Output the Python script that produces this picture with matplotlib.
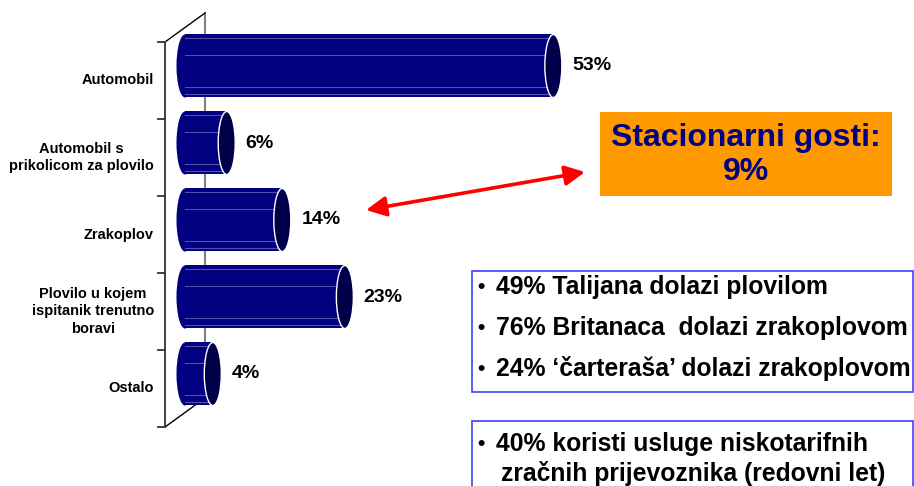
import matplotlib
matplotlib.use('Agg')
import matplotlib.pyplot as plt
from matplotlib.patches import Ellipse, Rectangle, FancyArrowPatch, ArrowStyle
from matplotlib.transforms import IdentityTransform

plt.rcParams['font.family'] = ['Liberation Sans', 'DejaVu Sans']

categories = ['Automobil', 'Automobil s\nprikolicom za plovilo', 'Zrakoplov',
              'Plovilo u kojem\nispitanik trenutno\nboravi', 'Ostalo']
values = [53, 6, 14, 23, 4]

highlight = 'Stacionarni gosti:\n9%'
notes_1 = ['49% Talijana dolazi plovilom',
           '76% Britanaca  dolazi zrakoplovom',
           '24% \u2018čarteraša\u2019 dolazi zrakoplovom']
notes_2 = ['40% koristi usluge niskotarifnih', 'zračnih prijevoznika (redovni let)']

W, H = 914, 486
fig = plt.figure(figsize=(W / 100, H / 100), dpi=100)
fig.patch.set_facecolor('white')


def fx(x):
    return x / W


def fy(y):
    return 1 - y / H


# chart axes (bars sit at mid depth of the 3D box)
ax = fig.add_axes([fx(165), fy(430), (700 - 165) / W, (430 - 12) / H])
ax.set_xlim(-20 / 6.95, 515 / 6.95)
ax.set_ylim((430 - 66) / 77, (12 - 66) / 77)
ax.axis('off')

body = '#000080'
cap = '#00004a'
bh = 63 / 77
ew = 17 / 6.95
depth_x, depth_y = 20, 14.5   # px, half depth of the box

fig.canvas.draw()


def disp(x, y, ox, oy):
    px, py = ax.transData.transform((x, y))
    return px + ox, py + oy


def seg(p1, p2, **kw):
    ln = plt.Line2D([p1[0], p2[0]], [p1[1], p2[1]], transform=IdentityTransform(), **kw)
    fig.add_artist(ln)


n = len(categories)
top, bot = -0.5, n - 0.5

# back wall line
seg(disp(0, top, depth_x, depth_y), disp(0, bot, depth_x, depth_y), color='#808080', lw=1.5, zorder=0)
# floor / top diagonals
seg(disp(0, top, -depth_x, -depth_y), disp(0, top, depth_x, depth_y), color='black', lw=1, zorder=0)
seg(disp(0, bot, -depth_x, -depth_y), disp(0, bot, depth_x, depth_y), color='black', lw=1, zorder=0)
# front axis + ticks
seg(disp(0, top, -depth_x, -depth_y), disp(0, bot, -depth_x, -depth_y), color='#333333', lw=1.3, zorder=5)
for k in range(n + 1):
    b = top + k
    seg(disp(0, b, -depth_x - 7, -depth_y), disp(0, b, -depth_x, -depth_y), color='#333333', lw=1.3, zorder=5)

stripes = [0.06, 0.32, 0.83, 0.94]
for i, v in enumerate(values):
    ax.add_patch(Ellipse((0, i), ew, bh, facecolor=body, edgecolor='none', zorder=2))
    ax.add_patch(Rectangle((0, i - bh / 2), v, bh, facecolor=body, edgecolor='none', zorder=2))
    for s in stripes:
        ax.plot([0, v], [i - bh / 2 + s * bh] * 2, color='#5252ac', lw=0.8, zorder=3)
    ax.add_patch(Ellipse((v, i), ew, bh, facecolor=cap, edgecolor='white', lw=1, zorder=4))
    ax.annotate(f'{v}%', (v, i), xytext=(19 * 0.72, 0), textcoords='offset points',
                ha='left', va='center', fontsize=14, fontweight='bold', color='black')
    ax.annotate(categories[i], (0, i), xytext=(-31 * 0.72, -depth_y * 0.72), textcoords='offset points',
                ha='right', va='center', multialignment='center', fontsize=10.5,
                fontweight='bold', linespacing=1.3, color='black')

# orange call-out
fig.add_artist(Rectangle((fx(600), fy(196)), 292 / W, 84 / H, transform=fig.transFigure,
                         facecolor='#ff9900', edgecolor='none'))
fig.text(fx(746), fy(155), highlight, ha='center', va='center', color='#000080',
         fontsize=23, fontweight='bold', linespacing=1.2)

# red double arrow
arrow = FancyArrowPatch((366, H - 210), (585, H - 172), transform=IdentityTransform(),
                        arrowstyle=ArrowStyle('<|-|>', head_length=1.2, head_width=0.6),
                        mutation_scale=10, color='#ff0000', lw=2.6, shrinkA=0, shrinkB=0)
fig.add_artist(arrow)

# note boxes
fig.add_artist(Rectangle((fx(472), fy(392)), (913 - 472) / W, (392 - 271) / H, transform=fig.transFigure,
                         facecolor='none', edgecolor='#3f3fff', lw=1.2))
for k, t in enumerate(notes_1):
    fig.text(fx(481), fy(287 + 41 * k), '•', ha='center', va='center', fontsize=15, fontweight='bold')
    fig.text(fx(496), fy(294 + 41 * k), t, ha='left', va='baseline', fontsize=17.8, fontweight='bold')

fig.add_artist(Rectangle((fx(472), fy(500)), (913 - 472) / W, (500 - 421) / H, transform=fig.transFigure,
                         facecolor='none', edgecolor='#3f3fff', lw=1.2))
fig.text(fx(481), fy(444), '•', ha='center', va='center', fontsize=15, fontweight='bold')
fig.text(fx(496), fy(451), notes_2[0], ha='left', va='baseline', fontsize=17.8, fontweight='bold')
fig.text(fx(501), fy(481), notes_2[1], ha='left', va='baseline', fontsize=17.8, fontweight='bold')

plt.savefig('out.png', dpi=100)
